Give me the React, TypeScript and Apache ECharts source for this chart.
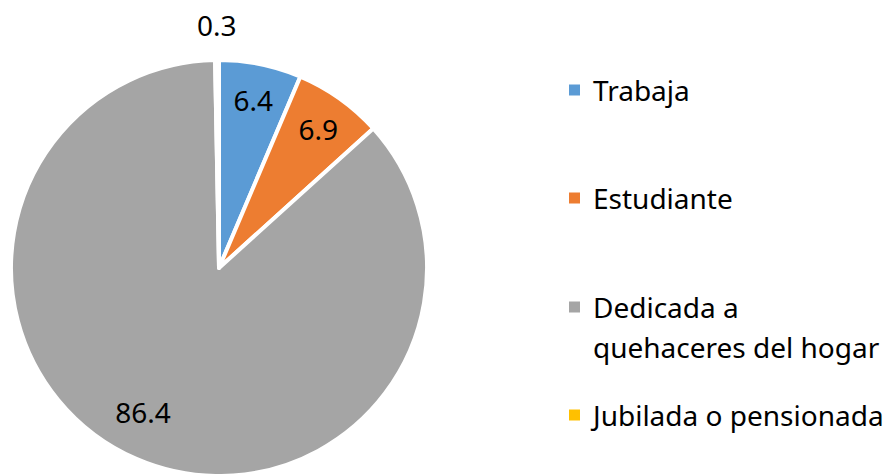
import React, { useEffect, useRef } from "react";
import * as echarts from "echarts";

const categories = ["Trabaja", "Estudiante", "Dedicada a quehaceres del hogar", "Jubilada o pensionada"];
const values = [6.4, 6.9, 86.4, 0.3];
const legendLabels = ["Trabaja", "Estudiante", " \nDedicada a\nquehaceres del hogar", "Jubilada o pensionada"];
const palette = ["#5B9BD5", "#ED7D31", "#A5A5A5", "#FFC000"];

const FONT = "'Noto Sans', sans-serif";

export default function App() {
  const ref = useRef<HTMLDivElement>(null);
  useEffect(() => {
    if (!ref.current) return;
    const chart = echarts.init(ref.current, undefined, { renderer: "svg" });
    const cx = 219, cy = 268;
    const mainData = categories.map((name, i) => ({ name, value: values[i], itemStyle: { color: palette[i] } }));
    const innerLabelData = categories.map((name, i) => ({
      name,
      value: values[i],
      label: { show: i < 3, offset: i === 2 ? [-8, -13] : [0, 0] },
    }));
    const outerLabelData = categories.map((name, i) => ({
      name,
      value: values[i],
      label: { show: i === 3 },
    }));
    const legendTops = [72, 180, 247, 397];
    const legends = categories.map((name, i) => ({
      data: [{ name, itemStyle: { color: palette[i] } }],
      orient: "vertical",
      left: 567,
      top: legendTops[i],
      padding: 0,
      icon: "rect",
      itemWidth: 13,
      itemHeight: 13,
      selectedMode: false,
      formatter: () => legendLabels[i],
      textStyle: {
        fontFamily: FONT,
        fontSize: 28,
        color: "#000",
        lineHeight: i === 2 ? 40 : 36,
        padding: [0, 0, 0, 7],
      },
    }));
    chart.setOption({
      animation: false,
      backgroundColor: "#fff",
      legend: legends,
      series: [
        {
          type: "pie",
          center: [cx, cy],
          radius: [0, 208],
          startAngle: 90,
          clockwise: true,
          silent: true,
          label: { show: false },
          labelLine: { show: false },
          itemStyle: { borderColor: "#fff", borderWidth: 4 },
          data: mainData,
        },
        {
          type: "pie",
          center: [cx, cy],
          radius: [130, 206],
          startAngle: 90,
          clockwise: true,
          silent: true,
          itemStyle: { color: "rgba(0,0,0,0)", borderWidth: 0 },
          label: {
            position: "inside",
            formatter: "{c}",
            fontFamily: FONT,
            fontSize: 28,
            color: "#000",
          },
          labelLine: { show: false },
          data: innerLabelData,
        },
        {
          type: "pie",
          center: [cx, cy],
          radius: [230, 250],
          startAngle: 90,
          clockwise: true,
          silent: true,
          itemStyle: { color: "rgba(0,0,0,0)", borderWidth: 0 },
          label: {
            position: "inside",
            formatter: "{c}",
            fontFamily: FONT,
            fontSize: 28,
            color: "#000",
          },
          labelLine: { show: false },
          data: outerLabelData,
        },
      ],
    });
    return () => chart.dispose();
  }, []);
  return (
    <div
      ref={ref}
      style={{ position: "absolute", left: 0, top: 0, width: 887, height: 474 }}
    />
  );
}
